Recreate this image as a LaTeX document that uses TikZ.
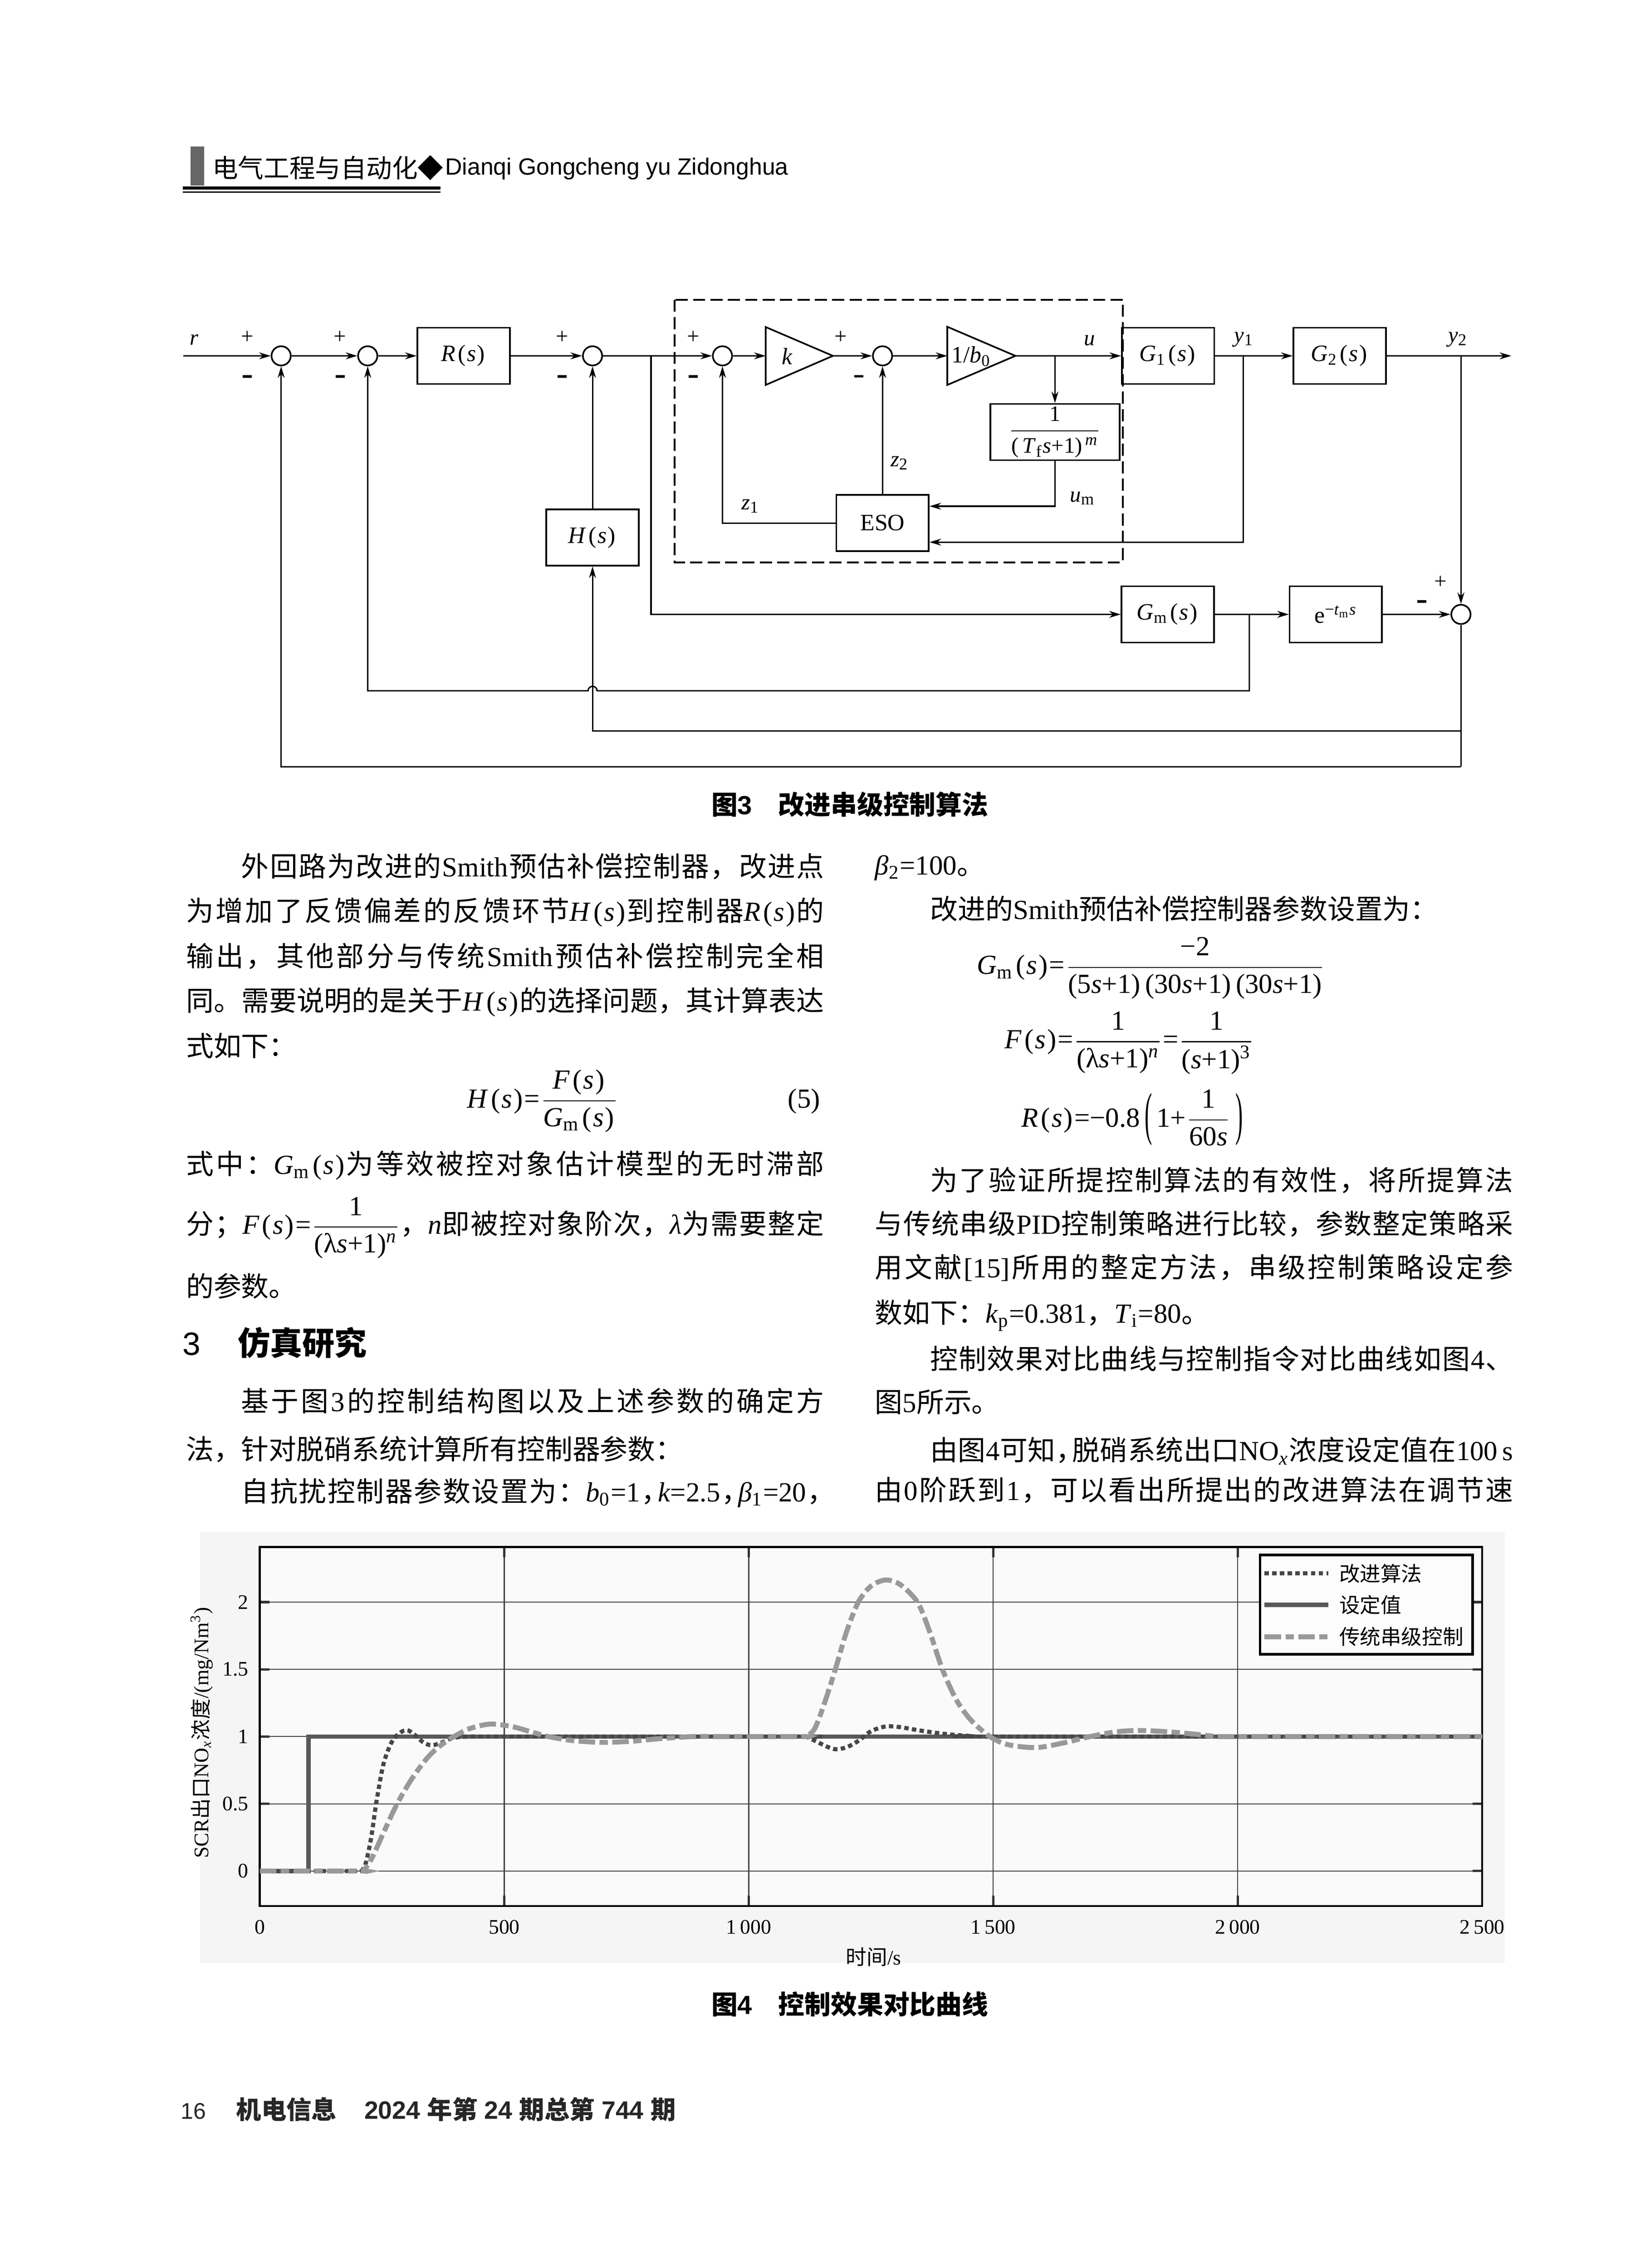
\documentclass[tikz,border=0pt]{standalone}
\usepackage{graphicx}
\usepackage{fontspec}
\setmainfont{Liberation Serif}
\newfontfamily\cjkfont{Noto Sans CJK SC}
\newfontfamily\hdsans{Liberation Sans}
\usetikzlibrary{arrows.meta,calc}

\XeTeXinterchartokenstate=1
\newXeTeXintercharclass\cjkclass
\newcount\cjkcnt
\def\setcjkrange#1#2{\cjkcnt=#1\relax
  \loop\ifnum\cjkcnt<#2\relax \XeTeXcharclass\cjkcnt=\cjkclass \advance\cjkcnt by 1 \repeat}
\setcjkrange{"3000}{"3040}
\setcjkrange{"4E00}{"A000}
\setcjkrange{"FF00}{"FFF0}
\XeTeXcharclass"25C6=\cjkclass
\XeTeXinterchartoks 0 \cjkclass={\hskip0pt plus .2em\begingroup\cjkfont}
\XeTeXinterchartoks 4095 \cjkclass={\begingroup\cjkfont}
\XeTeXinterchartoks \cjkclass 0={\endgroup\hskip0pt plus .2em\relax}
\XeTeXinterchartoks \cjkclass 4095={\endgroup}
\XeTeXinterchartoks \cjkclass \cjkclass={\hskip0pt plus .2em\relax}

\newlength\colw \setlength\colw{8.122cm}
\newcommand\vi[1]{\textit{#1}}
\newcommand\ps{\kern.1em(\kern.05em\textit{s}\kern.05em)\kern.05em}
\newcommand\mn{\rule{3.3pt}{0.9pt}}
\newcommand\zcm{，\kern-.4em}
\newcommand\tallp[1]{\raisebox{-.23em}{\scalebox{0.8}[2.1]{#1}}}
\newcommand\jline[4]{\node[txt] (#1) at (#2,#3) {\makebox[\colw][s]{#4}};}
\newcommand\pline[4]{\node[txt] (#1) at (#2,#3) {#4};}

\tikzset{
  sig/.style={line width=0.5pt,-{Stealth[length=4.2pt,width=2.5pt]}},
  wire/.style={line width=0.5pt},
  blk/.style={draw,line width=0.6pt,minimum width=1.176cm,minimum height=0.717cm,inner sep=0pt,font=\fontsize{8.5}{10}\selectfont},
  sumc/.style={draw,circle,line width=0.6pt,minimum size=0.245cm,inner sep=0pt},
  lbl/.style={inner sep=0pt,font=\fontsize{8}{9}\selectfont},
  txt/.style={anchor=base west,inner sep=0pt,font=\fontsize{10}{12}\selectfont},
  figcap/.style={inner sep=0pt,font={\hdsans\bfseries\fontsize{9.5}{11}\selectfont}},
  tkl/.style={inner sep=0pt,font=\fontsize{7.5}{9}\selectfont},
  grd/.style={line width=0.35pt,draw=black!75},
  tck/.style={line width=0.9pt,draw=black!80},
  setp/.style={line width=1.6pt,draw=black!65},
  impr/.style={line width=1.5pt,draw=black!72,dash pattern=on 1.6pt off 1.2pt},
  trad/.style={line width=1.8pt,draw=black!40,dash pattern=on 6pt off 1.6pt on 3pt off 1.6pt},
}

\begin{document}
\begin{tikzpicture}[x=0.018522cm,y=-0.018522cm]
  \useasboundingbox (0,0) rectangle (1133.8,1558.9);
  \fill[white] (0,0) rectangle (1133.8,1558.9);

  \fill[black!60] (130.8,100.7) rectangle (140.4,127.6);
  \fill (125.7,128.3) rectangle (302.8,130.2);
  \fill (125.7,131.6) rectangle (302.8,132.5);
  \node[anchor=base west,inner sep=0pt,font=\fontsize{9.3}{11}\selectfont] (hdzh) at (145.6,122) {电气工程与自动化◆};
  \node[anchor=base west,inner sep=0pt,font={\hdsans\fontsize{8.5}{10}\selectfont}] (hden) at (305.6,120.2) {Dianqi Gongcheng yu Zidonghua};

  \node[sumc] (s1) at (193.2,244.6) {};
  \node[sumc] (s2) at (252.7,244.6) {};
  \node[blk] (R) at (318.65,244.6) {\vi{R}\ps};
  \node[sumc] (s3) at (407.2,244.6) {};
  \node[sumc] (s4) at (496.5,244.6) {};
  \draw[line width=0.6pt] (526.2,224.8) -- (572.4,244.6) -- (526.2,264.6) -- cycle;
  \coordinate (kin) at (526.2,244.6);
  \coordinate (kout) at (572.4,244.6);
  \node[lbl,font=\fontsize{8.5}{10}\selectfont] (kl) at (541,245) {\vi{k}};
  \node[sumc] (s5) at (606.5,244.6) {};
  \draw[line width=0.6pt] (651,224.6) -- (697.8,244.6) -- (651,264.6) -- cycle;
  \coordinate (bin) at (651,244.6);
  \coordinate (bout) at (697.8,244.6);
  \node[lbl,font=\fontsize{8.5}{10}\selectfont] (bl) at (667.5,245) {1/\vi{b}\textsubscript{0}};
  \node[blk] (G1) at (802.75,244.6) {\vi{G}\textsubscript{1}\ps};
  \node[blk] (G2) at (920.65,244.6) {\vi{G}\textsubscript{2}\ps};
  \node[blk,minimum width=1.648cm,font=\fontsize{8}{9}\selectfont] (F) at (725,297) {$\displaystyle\frac{\mbox{1}}{\mbox{(\,\vi{T}\textsubscript{f}\vi{s}+1)\textsuperscript{\,\vi{m}}}}$};
  \node[blk] (ESO) at (606.5,359.5) {ESO};
  \node[blk] (H) at (407.2,369.4) {\vi{H}\ps};
  \node[blk] (Gm) at (802.5,422.3) {\vi{G}\textsubscript{m}\ps};
  \node[blk] (E) at (918,422.3) {e\textsuperscript{−\vi{t}\textsubscript{m}\vi{s}}};
  \node[sumc] (s6) at (1004,422.3) {};
  \draw[line width=0.6pt,dash pattern=on 4.4pt off 1.9pt] (463.7,206) rectangle (771.7,386.6);

  \coordinate (rin) at (126,244.6);
  \coordinate (bu) at (725,244.6);
  \coordinate (by1) at (854.4,244.6);
  \coordinate (by2) at (1004,244.6);
  \coordinate (out) at (1038.6,244.6);
  \coordinate (bg) at (447.4,244.6);
  \coordinate (bgm) at (858.6,422.3);
  \coordinate (hp) at (858.6,474.8);
  \coordinate (hop) at (410.3,474.8);
  \coordinate (j1) at (1004,502.5);
  \coordinate (j2) at (1004,527);

  \draw[sig] (rin) -- (s1);
  \draw[sig] (s1) -- (s2);
  \draw[sig] (s2) -- (R);
  \draw[sig] (R) -- (s3);
  \draw[sig] (s3) -- (s4);
  \draw[sig] (s4) -- (kin);
  \draw[sig] (kout) -- (s5);
  \draw[sig] (s5) -- (bin);
  \draw[sig] (bout) -- (G1);
  \draw[sig] (bu) -- (F);
  \draw[sig] (F) |- ($(ESO.north east)!0.21!(ESO.south east)$);
  \draw[sig] (ESO) -- (s5);
  \draw[sig] (ESO) -| (s4);
  \draw[sig] (G1) -- (G2);
  \draw[sig] (by1) |- ($(ESO.north east)!0.83!(ESO.south east)$);
  \draw[sig] (G2) -- (out);
  \draw[sig] (by2) -- (s6);
  \draw[sig] (bg) |- (Gm);
  \draw[sig] (Gm) -- (E);
  \draw[sig] (E) -- (s6);
  \draw[sig] (bgm) -- (hp) -- (hop) arc[start angle=0,end angle=180,radius=0.057cm] -| (s2);
  \draw[wire] (s6) -- (j2);
  \draw[sig] (j1) -| (H);
  \draw[sig] (j2) -| (s1);
  \draw[sig] (H) -- (s3);

  \node[lbl] (rl) at (133.4,233.5) {\vi{r}};
  \node[lbl] (p1) at (170,232) {+};
  \node[lbl] (m1) at (170,258.8) {\mn};
  \node[lbl] (p2) at (233.7,232) {+};
  \node[lbl] (m2) at (233.7,258.8) {\mn};
  \node[lbl] (p3) at (386.4,232) {+};
  \node[lbl] (m3) at (386.4,258.8) {\mn};
  \node[lbl] (p4) at (476.5,232) {+};
  \node[lbl] (m4) at (476.5,258.8) {\mn};
  \node[lbl] (p5) at (577.8,232) {+};
  \node[lbl] (m5) at (590.3,258.7) {\mn};
  \node[lbl] (p6) at (990,400.1) {+};
  \node[lbl] (m6) at (977,413.4) {\mn};
  \node[lbl] (ul) at (748.7,234) {\vi{u}};
  \node[lbl] (y1l) at (855,233.3) {\vi{y}\textsubscript{1}};
  \node[lbl] (y2l) at (1002,233.3) {\vi{y}\textsubscript{2}};
  \node[lbl] (uml) at (744,342.5) {\vi{u}\textsubscript{m}};
  \node[lbl] (z2l) at (618.3,318.3) {\vi{z}\textsubscript{2}};
  \node[lbl] (z1l) at (515.8,347.8) {\vi{z}\textsubscript{1}};

  \node[figcap] (cap3) at (584,553) {图3\quad 改进串级控制算法};

  \jline{l1}{127.5}{602.5}{\hspace*{2em}外回路为改进的Smith预估补偿控制器，改进点}
  \jline{l2}{127.5}{633.2}{为增加了反馈偏差的反馈环节\vi{H}\ps 到控制器\vi{R}\ps 的}
  \jline{l3}{127.5}{664.2}{输出，其他部分与传统Smith预估补偿控制完全相}
  \jline{l4}{127.5}{694.9}{同。需要说明的是关于\vi{H}\ps 的选择问题，其计算表达}
  \pline{l5}{127.5}{725.9}{式如下：}
  \node[txt] (eq5) at (320.7,761.4) {\vi{H}\ps=$\displaystyle\frac{\mbox{\vi{F}\ps}}{\mbox{\vi{G}\textsubscript{m}\ps}}$};
  \node[txt,anchor=base east] (eq5n) at (564,761.4) {(5)};
  \jline{l6}{127.5}{807}{式中：\vi{G}\textsubscript{m}\ps 为等效被控对象估计模型的无时滞部}
  \jline{l7}{127.5}{848.1}{分；\vi{F}\ps=$\displaystyle\frac{\mbox{1}}{\mbox{(λ\vi{s}+1)\textsuperscript{\vi{n}}}}$，\vi{n}即被控对象阶次，\vi{λ}为需要整定}
  \pline{l8}{127.5}{891.2}{的参数。}
  \node[anchor=base west,inner sep=0pt,font={\hdsans\fontsize{11.7}{14}\selectfont}] (h3n) at (125,931.4) {3};
  \node[anchor=base west,inner sep=0pt,font={\bfseries\fontsize{11.7}{14}\selectfont}] (h3) at (163,931.4) {仿真研究};
  \jline{l9}{127.5}{970.2}{\hspace*{2em}基于图3的控制结构图以及上述参数的确定方}
  \pline{l10}{127.5}{1003.2}{法，针对脱硝系统计算所有控制器参数：}
  \jline{l11}{127.5}{1032.2}{\hspace*{2em}自抗扰控制器参数设置为：\vi{b}\textsubscript{0}=1\zcm\vi{k}=2.5\zcm\vi{β}\textsubscript{1}=20\zcm}

  \pline{r1}{601}{601.2}{\vi{β}\textsubscript{2}=100。}
  \pline{r2}{601}{631.9}{\hspace*{2em}改进的Smith预估补偿控制器参数设置为：}
  \node[txt] (eqg) at (671,669.7) {\vi{G}\textsubscript{m}\ps=$\displaystyle\frac{\mbox{−2}}{\mbox{(5\vi{s}+1)\,(30\vi{s}+1)\,(30\vi{s}+1)}}$};
  \node[txt] (eqf) at (690,720.7) {\vi{F}\ps=$\displaystyle\frac{\mbox{1}}{\mbox{(λ\vi{s}+1)\textsuperscript{\vi{n}}}}$=$\displaystyle\frac{\mbox{1}}{\mbox{(\vi{s}+1)\textsuperscript{3}}}$};
  \node[txt] (eqr) at (701.6,774.5) {\vi{R}\ps=−0.8\,\tallp{(}\,1+$\displaystyle\frac{\mbox{1}}{\mbox{60\vi{s}}}$\,\tallp{)}};
  \jline{r3}{601}{818.2}{\hspace*{2em}为了验证所提控制算法的有效性，将所提算法}
  \jline{r4}{601}{848.2}{与传统串级PID控制策略进行比较，参数整定策略采}
  \jline{r5}{601}{878.2}{用文献[15]所用的整定方法，串级控制策略设定参}
  \pline{r6}{601}{909.2}{数如下：\vi{k}\textsubscript{p}=0.381，\vi{T}\textsubscript{i}=80。}
  \jline{r7}{601}{941.2}{\hspace*{2em}控制效果对比曲线与控制指令对比曲线如图4、}
  \pline{r8}{601}{970.8}{图5所示。}
  \jline{r9}{601}{1003.9}{\hspace*{2em}由图4可知\zcm 脱硝系统出口NO\textsubscript{\vi{x}}浓度设定值在100\,s}
  \jline{r10}{601}{1031.2}{由0阶跃到1，可以看出所提出的改进算法在调节速}

  \fill[black!4] (137.4,1053) rectangle (1034,1349);
  \begin{scope}[shift={(178.5,1286)},x=0.0062315cm,y=1.71143cm]
    \fill[black!2] (0,-0.26) rectangle (2500,2.41);
    \foreach \t in {500,1000,1500,2000} {
      \draw[grd] (\t,-0.26) -- (\t,2.41);
      \draw[tck] (\t,-0.26) -- (\t,-0.184);
      \draw[tck] (\t,2.334) -- (\t,2.41);
    }
    \foreach \v in {0,0.5,1,1.5,2} {
      \draw[grd] (0,\v) -- (2500,\v);
      \draw[tck] (0,\v) -- (20,\v);
      \draw[tck] (2480,\v) -- (2500,\v);
    }
    \draw[line width=0.7pt] (0,-0.26) rectangle (2500,2.41);
    \draw[setp] (0,0) -- (100,0) -- (100,1) -- (2500,1);
    \draw[impr] plot[smooth,tension=0.5] coordinates {(0,0) (202,0) (209,0.005) (217,0.06) (228,0.25) (238,0.5) (252,0.78) (266,0.93) (278,1.0) (292,1.04) (304,1.045) (318,1.01) (335,0.955) (352,0.935) (372,0.955) (395,0.99) (430,1.0) (500,1.0) (1110,1.0) (1120,0.995) (1140,0.96) (1160,0.925) (1177,0.906) (1200,0.92) (1225,0.97) (1250,1.04) (1280,1.075) (1310,1.07) (1350,1.045) (1400,1.02) (1450,1.005) (1500,1.0) (2500,1.0)};
    \draw[trad] plot[smooth,tension=0.5] coordinates {(0,0) (205,0) (213,0.005) (230,0.1) (255,0.3) (281,0.5) (310,0.68) (340,0.83) (365,0.92) (397,1.0) (430,1.06) (471,1.093) (515,1.075) (555,1.035) (590,1.0) (640,0.97) (700,0.957) (760,0.965) (820,0.985) (887,1.0) (950,1.0) (1110,1.0) (1118,1.002) (1135,1.06) (1155,1.25) (1177,1.5) (1200,1.78) (1224,2.0) (1250,2.12) (1280,2.165) (1310,2.13) (1345,2.0) (1370,1.78) (1396,1.5) (1425,1.27) (1455,1.12) (1493,1.0) (1530,0.94) (1587,0.918) (1640,0.95) (1698,1.0) (1750,1.035) (1800,1.045) (1860,1.035) (1920,1.015) (1962,1.0) (2050,1.0) (2500,1.0)};
    \foreach \v/\l in {0/0,0.5/0.5,1/1,1.5/1.5,2/2}
      \node[tkl,anchor=east] at (-22,\v) {\l};
    \foreach \t/\l in {0/0,500/500,1000/1\,000,1500/1\,500,2000/2\,000,2500/2\,500}
      \node[tkl] at (\t,-0.4167) {\l};
  \end{scope}
  \node[tkl,rotate=90] (ylab) at (138.6,1191) {SCR出口NO\textsubscript{\vi{x}}浓度/(mg/Nm\textsuperscript{3})};
  \node[tkl] (xlab) at (600.4,1345.2) {时间/s};
  \draw[line width=0.9pt,fill=black!1] (866,1068.7) rectangle (1012,1137);
  \draw[impr] (869,1081.5) -- (913,1081.5);
  \draw[setp] (869,1103) -- (913,1103);
  \draw[trad] (869,1125) -- (913,1125);
  \node[tkl,anchor=west] (lg1) at (920,1081.5) {改进算法};
  \node[tkl,anchor=west] (lg2) at (920,1103) {设定值};
  \node[tkl,anchor=west] (lg3) at (920,1125) {传统串级控制};

  \node[figcap] (cap4) at (584,1377.7) {图4\quad 控制效果对比曲线};

  \node[anchor=base west,inner sep=0pt,text=black!85,font={\hdsans\fontsize{8.2}{10}\selectfont}] (pg) at (123.8,1456.5) {16};
  \node[anchor=base west,inner sep=0pt,text=black!85,font={\hdsans\bfseries\fontsize{9.1}{11}\selectfont}] (jn) at (162,1456.5) {机电信息};
  \node[anchor=base west,inner sep=0pt,text=black!85,font={\hdsans\bfseries\fontsize{9.1}{11}\selectfont}] (iss) at (250,1456.5) {2024 年第 24 期总第 744 期};
\end{tikzpicture}
\end{document}
